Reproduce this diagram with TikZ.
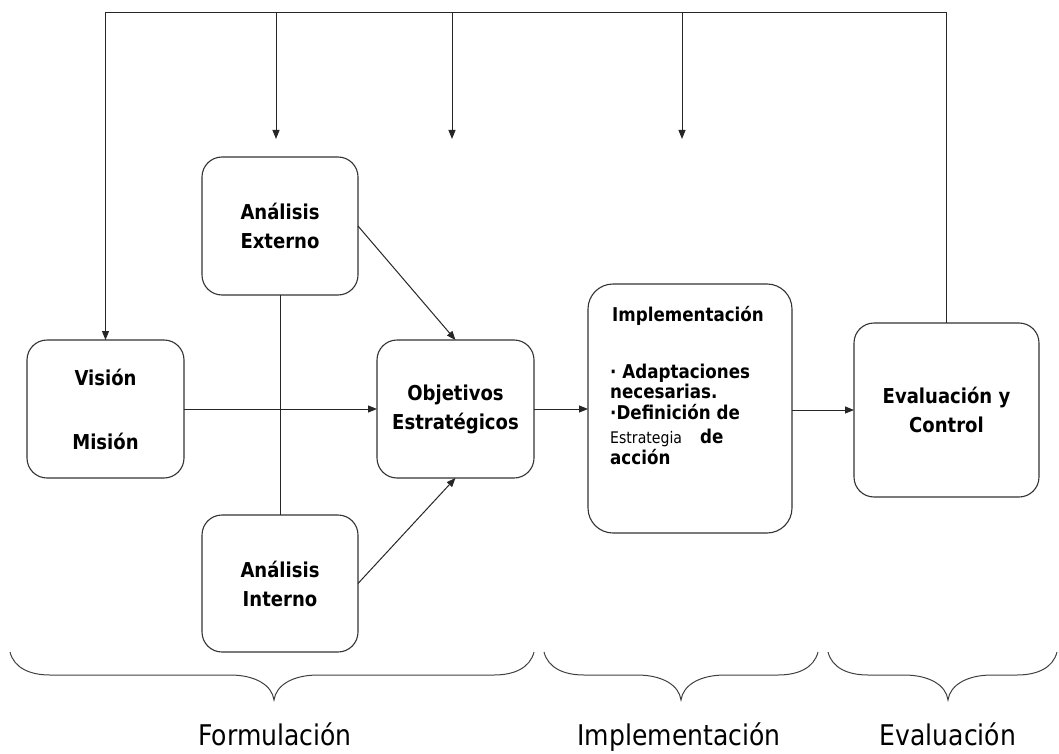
\documentclass[tikz,border=0pt]{standalone}
\usepackage{fontspec}
\setmainfont{DejaVu Sans}[FakeStretch=0.88]
\usetikzlibrary{arrows.meta}
\newcommand\mybrace[3]{%
  \draw[brace] ({#1},652) .. controls ({#1+4},668) and ({#1+20},675) .. ({#1+40},675)
    -- ({#2-44},675) .. controls ({#2-19},675) and ({#2-2},685) .. ({#2},700)
    .. controls ({#2+2},685) and ({#2+19},675) .. ({#2+44},675)
    -- ({#3-40},675) .. controls ({#3-20},675) and ({#3-4},668) .. ({#3},652);}
\begin{document}
\begin{tikzpicture}[x=1pt,y=-1pt,
  box/.style={draw=black!80,line width=1.1pt,rounded corners=20pt,inner sep=0pt,outer sep=0pt,
    align=center,font=\bfseries\fontsize{20.5}{29}\selectfont},
  arr/.style={draw=black!85,line width=1pt,-{Triangle[length=9pt,width=7pt]}},
  ln/.style={draw=black!85,line width=1pt},
  brace/.style={line width=1pt,black!75},
  lbl/.style={font=\fontsize{28.5}{32}\selectfont,anchor=base,inner sep=0pt},
  itm/.style={anchor=base west,inner sep=0pt,font=\bfseries\fontsize{19}{22}\selectfont}]
\useasboundingbox (0,0) rectangle (1059,754);
% boxes
\node[box,minimum width=157pt,minimum height=138pt] (vision) at (105.5,409) {Visión\\[35pt]Misión};
\node[box,minimum width=156pt,minimum height=138pt] (ext) at (280,226) {Análisis\\Externo};
\node[box,minimum width=156pt,minimum height=137pt] (int) at (280,583.5) {Análisis\\Interno};
\node[box,minimum width=157pt,minimum height=138pt] (obj) at (455.5,409) {Objetivos\\Estratégicos};
\node[box,rounded corners=25pt,minimum width=204pt,minimum height=249pt] (impl) at (690,408.5) {};
\node[box,minimum width=185pt,minimum height=174pt] (eval) at (946.5,410) {Evaluación y\\Control};
% implementation text
\node[itm,anchor=base] (it0) at (688,321) {Implementación};
\node[itm] (it1) at (610,378) {· Adaptaciones};
\node[itm] (it2) at (610,398) {necesarias.};
\node[itm] (it3) at (610,419) {·Definición de};
\node[itm] (it4) at (610,443) {{\mdseries\fontsize{16}{18}\selectfont Estrategia}\hspace{18pt}de};
\node[itm] (it5) at (610,464) {acción};
% connectors
\draw[arr] (vision) -- (obj);
\draw[ln] (ext.south) -- (int.north);
\draw[arr] (ext.east) -- (obj.north);
\draw[arr] (int.east) -- (obj.south);
\draw[arr] (obj.east) -- (obj.east -| impl.west);
\draw[arr] (eval.west -| impl.east) -- (eval.west);
% feedback loop
\coordinate (tr) at (946.5,13);
\coordinate (tl) at (105.5,13);
\draw[arr] (eval.north) -- (tr) -- (tl) -- (vision.north);
\coordinate (s1) at (276,13);
\coordinate (e1) at (276,139);
\coordinate (s2) at (452,13);
\coordinate (e2) at (452,139);
\coordinate (s3) at (682,13);
\coordinate (e3) at (682,139);
\draw[arr] (s1) -- (e1);
\draw[arr] (s2) -- (e2);
\draw[arr] (s3) -- (e3);
% braces
\mybrace{10}{274}{534}
\mybrace{544}{681}{818}
\mybrace{828}{948}{1057}
% labels
\node[lbl] (lf) at (275,745) {Formulación};
\node[lbl] (li) at (679,745) {Implementación};
\node[lbl] (le) at (948,745) {Evaluación};
\end{tikzpicture}
\end{document}
